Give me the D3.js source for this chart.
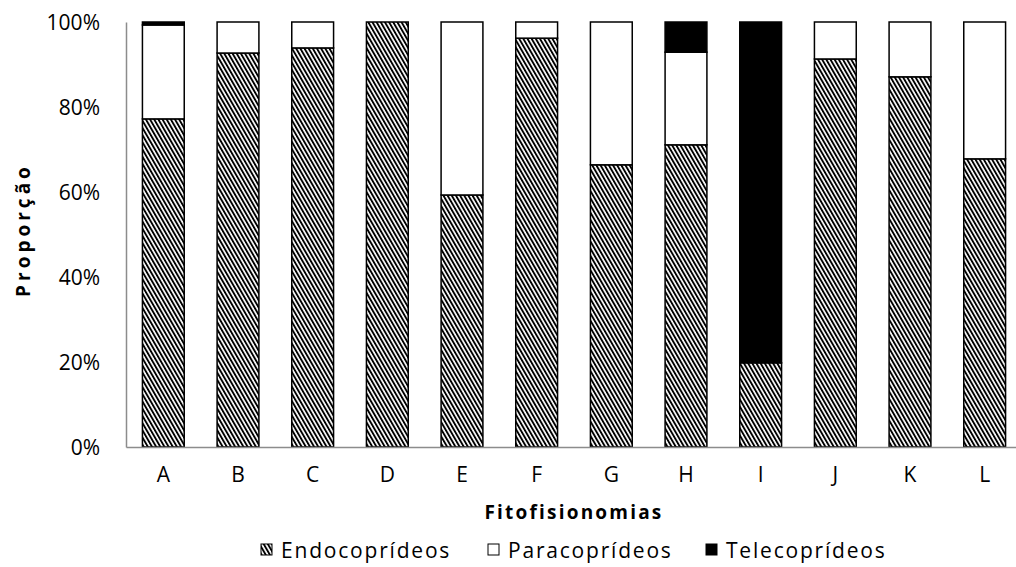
<!DOCTYPE html>
<html>
<head>
<meta charset="utf-8">
<script src="https://cdn.jsdelivr.net/npm/d3@7"></script>
<style>
  body { margin: 0; background: #fff; }
  text { font-family: "Open Sans", "Liberation Sans", sans-serif; fill: #000; }
</style>
</head>
<body>
<div class="chart"></div>
<script>
// Data (proportions, %)
const categories = ['A', 'B', 'C', 'D', 'E', 'F', 'G', 'H', 'I', 'J', 'K', 'L'];
const endocoprideos = [77.2, 92.7, 93.9, 100, 59.3, 96.2, 66.4, 71.1, 19.8, 91.3, 87.1, 67.8];
const paracoprideos = [22.1, 7.3, 6.1, 0, 40.7, 3.8, 33.6, 21.8, 0, 8.7, 12.9, 32.2];
const telecoprideos = [0.7, 0, 0, 0, 0, 0, 0, 7.1, 80.2, 0, 0, 0];
const seriesNames = ['Endocoprídeos', 'Paracoprídeos', 'Telecoprídeos'];
const yTicks = [0, 20, 40, 60, 80, 100];

const width = 1016;
const height = 567;
const margin = {top: 22, right: -6, bottom: 120, left: 126};
const inner_width = width - margin.left - margin.right;
const inner_height = height - margin.top - margin.bottom;

const svg = d3.select('.chart').append('svg')
    .attr('width', width)
    .attr('height', height);

// Hatch pattern for Endocoprídeos
const defs = svg.append('defs');
defs.append('pattern')
    .attr('id', 'hatch')
    .attr('patternUnits', 'userSpaceOnUse')
    .attr('width', 3.6)
    .attr('height', 10)
    .attr('patternTransform', 'rotate(-30)')
  .append('rect')
    .attr('x', 0).attr('y', 0)
    .attr('width', 1.9).attr('height', 10)
    .attr('fill', '#000');

const fills = ['url(#hatch)', '#fff', '#000'];

const rows = categories.map((c, i) => ({
    cat: c,
    [seriesNames[0]]: endocoprideos[i],
    [seriesNames[1]]: paracoprideos[i],
    [seriesNames[2]]: telecoprideos[i]
}));
const stacked = d3.stack().keys(seriesNames)(rows);

const xScale = d3.scaleBand()
    .domain(categories)
    .range([0, inner_width])
    .paddingInner(0.44)
    .paddingOuter(0.22);
const yScale = d3.scaleLinear()
    .domain([0, 100])
    .range([inner_height, 0]);

const chart = svg.append('g').attr('transform', `translate(${margin.left}, ${margin.top})`);

// Bars
chart.append('g')
    .selectAll('g')
    .data(stacked)
    .join('g')
        .attr('fill', (d, i) => fills[i])
    .selectAll('rect')
    .data(d => d.filter(p => p[1] - p[0] > 0))
    .join('rect')
        .attr('x', d => xScale(d.data.cat))
        .attr('y', d => yScale(d[1]))
        .attr('width', xScale.bandwidth())
        .attr('height', d => yScale(d[0]) - yScale(d[1]))
        .attr('stroke', '#000')
        .attr('stroke-width', 1.5);

// Y axis
chart.append('g')
    .call(d3.axisLeft(yScale).tickValues(yTicks).tickSize(0).tickPadding(26).tickFormat(d => d + '%'))
    .attr('font-size', 21)
    .attr('font-family', '"Open Sans", sans-serif')
    .call(g => g.select('.domain').attr('stroke', '#8c8c8c').attr('stroke-width', 1.5))
    .call(g => g.selectAll('text').attr('dy', '0.36em'));

// X axis
chart.append('g')
    .attr('transform', `translate(0, ${inner_height})`)
    .call(d3.axisBottom(xScale).tickSize(0).tickPadding(20))
    .attr('font-size', 21)
    .attr('font-family', '"Open Sans", sans-serif')
    .call(g => g.select('.domain').attr('stroke', '#8c8c8c').attr('stroke-width', 1.5));

// Axis titles
svg.append('text')
    .attr('transform', 'translate(30, 230) rotate(-90)')
    .attr('text-anchor', 'middle')
    .attr('font-size', 19)
    .attr('font-weight', 'bold')
    .attr('letter-spacing', 4)
    .text('Proporção');

svg.append('text')
    .attr('x', margin.left + inner_width / 2)
    .attr('y', 519)
    .attr('text-anchor', 'middle')
    .attr('font-size', 19)
    .attr('font-weight', 'bold')
    .attr('letter-spacing', 2.2)
    .text('Fitofisionomias');

// Legend
const legendX = [261, 488, 706];
const legend = svg.append('g').attr('transform', 'translate(0, 550)');
legend.selectAll('rect')
    .data(seriesNames)
    .join('rect')
        .attr('x', (d, i) => legendX[i])
        .attr('y', -6)
        .attr('width', 11)
        .attr('height', 11)
        .attr('fill', (d, i) => fills[i])
        .attr('stroke', '#000')
        .attr('stroke-width', 1);
legend.selectAll('text')
    .data(seriesNames)
    .join('text')
        .attr('x', (d, i) => legendX[i] + 20)
        .attr('y', 0)
        .attr('dy', '0.36em')
        .attr('font-size', 21)
        .attr('letter-spacing', 1.8)
        .text(d => d);
</script>
</body>
</html>
